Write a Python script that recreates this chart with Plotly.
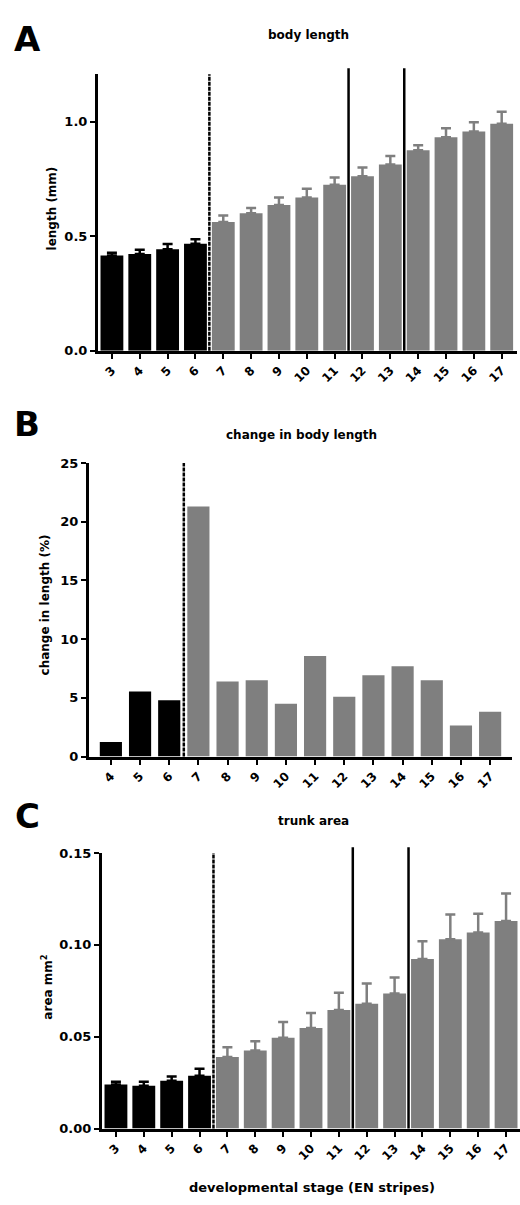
import plotly.graph_objects as go

# ---------------- data ----------------
stages_A = [3, 4, 5, 6, 7, 8, 9, 10, 11, 12, 13, 14, 15, 16, 17]
length_mm = [0.415, 0.422, 0.443, 0.467, 0.562, 0.600, 0.636, 0.669, 0.724, 0.761, 0.813, 0.875, 0.932, 0.957, 0.990]
length_sem = [0.012, 0.018, 0.023, 0.019, 0.028, 0.023, 0.033, 0.038, 0.032, 0.039, 0.037, 0.022, 0.039, 0.040, 0.053]

stages_B = [4, 5, 6, 7, 8, 9, 10, 11, 12, 13, 14, 15, 16, 17]
change_pct = [1.24, 5.53, 4.80, 21.3, 6.40, 6.50, 4.50, 8.56, 5.10, 6.93, 7.69, 6.50, 2.64, 3.81]

stages_C = [3, 4, 5, 6, 7, 8, 9, 10, 11, 12, 13, 14, 15, 16, 17]
area_mm2 = [0.0240, 0.0233, 0.0260, 0.0287, 0.0390, 0.0425, 0.0495, 0.0548, 0.0645, 0.0680, 0.0735, 0.0923, 0.1030, 0.1067, 0.1130]
area_sem = [0.0015, 0.0022, 0.0023, 0.0039, 0.0053, 0.0050, 0.0085, 0.0081, 0.0095, 0.0110, 0.0088, 0.0097, 0.0135, 0.0103, 0.0150]

first_gray_stage = 7
dashed_after = 6          # dashed separator after this stage
solid_after = [11, 13]    # solid separators after these stages

BLACK = "#000000"
GRAY = "#7f7f7f"
FONT = "DejaVu Sans"

W, H = 520, 1205

def px(x):
    return x / W

def py(y):
    return 1 - y / H

fig = go.Figure()

def add_bars(stages, vals, errs, xa, ya, bargap_w):
    groups = [
        ([s for s in stages if s < first_gray_stage], BLACK),
        ([s for s in stages if s >= first_gray_stage], GRAY),
    ]
    for sel, col in groups:
        idx = [stages.index(s) for s in sel]
        kw = {}
        if errs is not None:
            kw["error_y"] = dict(type="data", symmetric=False,
                                 array=[errs[i] for i in idx],
                                 arrayminus=[0] * len(idx),
                                 color=col, thickness=2.5, width=5)
        fig.add_trace(go.Bar(
            x=sel, y=[vals[i] for i in idx], marker_color=col,
            marker_line_width=0, width=bargap_w, xaxis=xa, yaxis=ya,
            showlegend=False, **kw))

add_bars(stages_A, length_mm, length_sem, "x", "y", 0.82)
add_bars(stages_B, change_pct, None, "x2", "y2", 0.76)
add_bars(stages_C, area_mm2, area_sem, "x3", "y3", 0.82)

tickfont = dict(family=FONT, size=13, color="black", weight="bold")
xtickfont = dict(family=FONT, size=12, color="black", weight="bold")

def xaxis(dom, rng, stages, anchor):
    return dict(domain=dom, range=rng, anchor=anchor, tickmode="array",
                tickvals=stages, ticktext=[str(s) for s in stages],
                tickangle=-45, tickfont=xtickfont, showline=True,
                linewidth=3, linecolor="black", ticks="outside", ticklen=5,
                tickwidth=2, tickcolor="black", showgrid=False, zeroline=False,
                fixedrange=True)

def yaxis(dom, rng, tickvals, fmt, anchor):
    return dict(domain=dom, range=rng, anchor=anchor, tickmode="array",
                tickvals=tickvals, tickformat=fmt, tickfont=tickfont,
                showline=True, linewidth=3, linecolor="black",
                ticks="outside", ticklen=5, tickwidth=2, tickcolor="black",
                ticklabelstandoff=0,
                showgrid=False, zeroline=False, fixedrange=True)

fig.update_layout(
    width=W, height=H, margin=dict(l=0, r=0, t=0, b=0),
    paper_bgcolor="white", plot_bgcolor="white", barmode="overlay",
    xaxis=xaxis([px(98), px(517)], [2.5, 17.55], stages_A, "y"),
    yaxis=yaxis([py(348), py(68)], [0, 1.207], [0, 0.5, 1.0], ".1f", "x"),
    xaxis2=xaxis([px(89), px(512)], [3.25, 17.75], stages_B, "y2"),
    yaxis2=yaxis([py(759), py(461.7)], [0, 25], [0, 5, 10, 15, 20, 25], "d", "x2"),
    xaxis3=xaxis([px(102), px(520)], [2.5, 17.5], stages_C, "y3"),
    yaxis3=yaxis([py(1135.7), py(856.7)], [0, 0.15], [0, 0.05, 0.10, 0.15], ".2f", "x3"),
)

# separator lines
shapes = []
for xa, ya, solids in [("x", "y", solid_after), ("x2", "y2", []), ("x3", "y3", solid_after)]:
    shapes.append(dict(type="line", xref=xa, yref=ya + " domain",
                       x0=dashed_after + 0.5, x1=dashed_after + 0.5, y0=0, y1=1,
                       line=dict(color="black", width=2.5, dash="4px,1px")))
    for s in solids:
        shapes.append(dict(type="line", xref=xa, yref=ya + " domain",
                           x0=s + 0.5, x1=s + 0.5, y0=0, y1=1.021,
                           line=dict(color="black", width=2.5)))
fig.update_layout(shapes=shapes)

def ann(text, x, y, size, angle=0):
    return dict(text=text, x=px(x), y=py(y), xref="paper", yref="paper",
                xanchor="center", yanchor="middle", showarrow=False,
                textangle=angle,
                font=dict(family=FONT, size=size, color="black", weight="bold"))

annotations = [
    ann("A", 27, 32, 34),
    ann("B", 27, 422, 34),
    ann("C", 27, 819, 34),
    ann("body length", 308, 28, 12),
    ann("change in body length", 301, 433, 12),
    ann("trunk area", 313, 824, 12),
    ann("length (mm)", 52, 204, 12, -90),
    ann("change in length (%)", 45, 606, 12, -90),
    ann("area mm<sup>2</sup>", 47, 993, 12, -90),
    ann("developmental stage (EN stripes)", 312, 1195, 13),
]
fig.update_layout(annotations=annotations)

fig.write_html(
    "out.html",
    config={"displayModeBar": False},
    post_script="document.body.style.margin='0';document.body.style.overflow='hidden';",
)
